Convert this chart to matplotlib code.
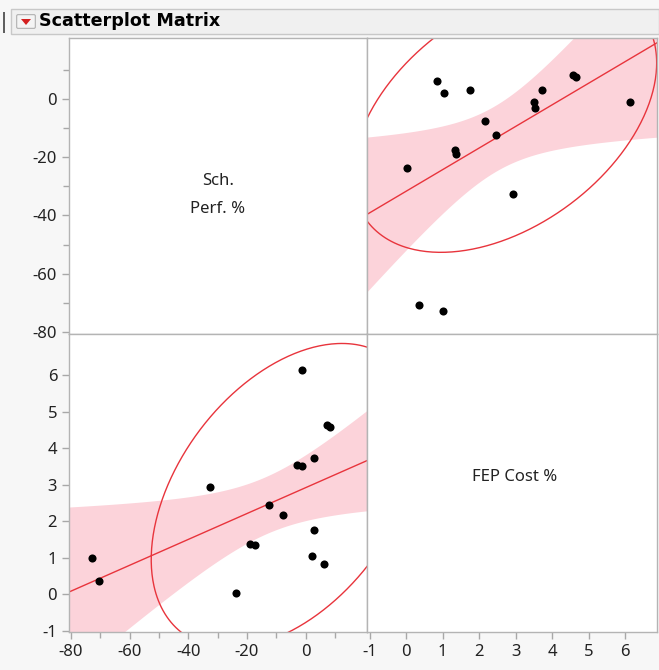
import numpy as np
import matplotlib.pyplot as plt
from matplotlib.patches import Rectangle, Polygon, FancyBboxPatch

# data: FEP Cost % (x) vs Sch. Perf. % (y)
fep_cost = [0.84, 1.05, 1.76, 6.13, 3.72, 4.57, 4.64, 3.50, 3.54, 2.17,
            2.45, 1.34, 1.38, 0.03, 2.93, 0.36, 1.00]
sch_perf = [6.2, 2.0, 3.0, -1.2, 3.0, 8.2, 7.4, -1.2, -3.0, -7.6,
            -12.5, -17.4, -19.0, -23.8, -32.6, -70.6, -72.7]
sch_ticks = [-80, -60, -40, -20, 0]
sch_minor = [-70, -50, -30, -10, 10]
fep_ticks = [-1, 0, 1, 2, 3, 4, 5, 6]
sch_lim = (-80.7, 20.9)
fep_xlim = (-1.07, 6.87)
fep_ylim = (-1.03, 7.12)

# robust density ellipse estimates as drawn (FEP, Sch)
ell_center = [2.70, -6.9]
ell_sd = [1.70, 18.7]
ell_corr = 0.42

W, H = 659, 670
BG = '#f7f7f7'
RED = '#e8343c'
PINK = '#fcd3da'
GRID = '#b4b4b4'
CHI2_95 = 5.991   # chi-square, 2 df, 0.95
T_15 = 2.131      # t, 15 df, 0.975

plt.rcParams['font.family'] = ['Noto Sans', 'DejaVu Sans']

fig = plt.figure(figsize=(W / 100, H / 100), dpi=100)
fig.patch.set_facecolor(BG)


def px_axes(x0, y0, x1, y1):
    return fig.add_axes([x0 / W, 1 - y1 / H, (x1 - x0) / W, (y1 - y0) / H])


def style(ax):
    ax.set_facecolor('white')
    for s in ax.spines.values():
        s.set_color(GRID)
        s.set_linewidth(1)
    ax.tick_params(which='both', direction='out', color='#a8a8a8',
                   labelsize=12, labelcolor='#222222', length=5, width=1)
    ax.tick_params(which='minor', length=4)


def fit_panel(ax, x, y, xlim, swap):
    x = np.asarray(x)
    y = np.asarray(y)
    n = len(x)
    xm, ym = x.mean(), y.mean()
    sxx = ((x - xm) ** 2).sum()
    b = ((x - xm) * (y - ym)).sum() / sxx
    a = ym - b * xm
    s = np.sqrt(((y - a - b * x) ** 2).sum() / (n - 2))
    xs = np.linspace(xlim[0] - 1, xlim[1] + 1, 200)
    yh = a + b * xs
    half = T_15 * s * np.sqrt(1 / n + (xs - xm) ** 2 / sxx)
    ax.fill_between(xs, yh - half, yh + half, color=PINK, lw=0, zorder=1)
    ax.plot(xs, yh, color=RED, lw=1, zorder=2)
    # density ellipse
    c = np.array(ell_center)
    sd = np.array(ell_sd)
    if swap:
        c, sd = c[::-1], sd[::-1]
    cov = np.array([[sd[0] ** 2, ell_corr * sd[0] * sd[1]],
                    [ell_corr * sd[0] * sd[1], sd[1] ** 2]])
    vals, vecs = np.linalg.eigh(cov)
    t = np.linspace(0, 2 * np.pi, 400)
    circ = np.vstack([np.cos(t), np.sin(t)]) * np.sqrt(vals[:, None] * CHI2_95)
    pts = vecs @ circ
    ax.plot(c[0] + pts[0], c[1] + pts[1], color=RED, lw=1, zorder=2)
    ax.scatter(x, y, s=34, color='black', zorder=3, linewidths=0)


# panels
ax_tl = px_axes(69, 38, 367, 334)
ax_tr = px_axes(367, 38, 657, 334)
ax_bl = px_axes(69, 334, 367, 632)
ax_br = px_axes(367, 334, 657, 632)
for ax in (ax_tl, ax_tr, ax_bl, ax_br):
    style(ax)

# top-left: label cell
ax_tl.set_xlim(sch_lim)
ax_tl.set_ylim(sch_lim)
ax_tl.set_yticks(sch_ticks)
ax_tl.set_yticks(sch_minor, minor=True)
ax_tl.set_xticks([])
ax_tl.text(0.5, 0.47, 'Sch.\nPerf. %', transform=ax_tl.transAxes,
           ha='center', va='center', fontsize=12, color='#222222',
           linespacing=2.0)

# top-right: Sch vs FEP
fit_panel(ax_tr, fep_cost, sch_perf, fep_xlim, False)
ax_tr.set_xlim(fep_xlim)
ax_tr.set_ylim(sch_lim)
ax_tr.set_xticks([])
ax_tr.set_yticks([])

# bottom-left: FEP vs Sch
fit_panel(ax_bl, sch_perf, fep_cost, sch_lim, True)
ax_bl.set_xlim(sch_lim)
ax_bl.set_ylim(fep_ylim)
ax_bl.set_xticks(sch_ticks)
ax_bl.set_xticks(sch_minor, minor=True)
ax_bl.set_yticks(fep_ticks)

# bottom-right: label cell
ax_br.set_xlim(fep_xlim)
ax_br.set_ylim(fep_ylim)
ax_br.set_yticks([])
ax_br.set_xticks(fep_ticks)
ax_br.text(0.51, 0.52, 'FEP Cost %', transform=ax_br.transAxes,
           ha='center', va='center', fontsize=12, color='#222222')

for ax in (ax_tl, ax_bl):
    ax.set_yticklabels([str(v) for v in ax.get_yticks()])
for ax in (ax_bl, ax_br):
    ax.set_xticklabels([str(v) for v in ax.get_xticks()])

# header bar
fig.add_artist(Rectangle((3 / W, 1 - 33 / H), 2 / W, 21 / H,
                         transform=fig.transFigure, facecolor='#606060',
                         edgecolor='none'))
fig.add_artist(Rectangle((11 / W, 1 - 34 / H), (W - 11) / W, 25 / H,
                         transform=fig.transFigure, facecolor='#f0f0f0',
                         edgecolor='#c8c8c8', lw=1))
fig.add_artist(FancyBboxPatch((18 / W, 1 - 27 / H), 16 / W, 11 / H,
                              boxstyle='round,pad=0.002',
                              transform=fig.transFigure, facecolor='#f4f4f4',
                              edgecolor='#b0b0b0', lw=0.8))
fig.add_artist(Polygon([[21 / W, 1 - 19 / H], [31 / W, 1 - 19 / H],
                        [26 / W, 1 - 25 / H]], closed=True,
                       transform=fig.transFigure, facecolor='#d42020',
                       edgecolor='none'))
fig.text(39 / W, 1 - 21.5 / H, 'Scatterplot Matrix', fontsize=12.6,
         fontweight='bold', family='DejaVu Sans', ha='left', va='center',
         color='black')

fig.savefig('out.png', dpi=100, facecolor=BG)
